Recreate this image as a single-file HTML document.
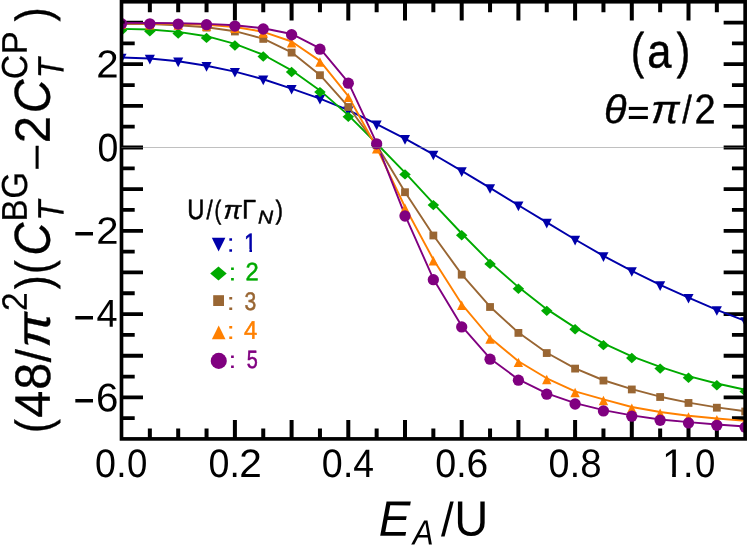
<!DOCTYPE html>
<html><head><meta charset="utf-8"><title>chart</title>
<style>html,body{margin:0;padding:0;background:#fff;}body{position:relative;width:747px;height:547px;overflow:hidden;font-family:"Liberation Sans",sans-serif;}</style>
</head><body>
<svg width="747" height="547" viewBox="0 0 747 547" style="display:block;position:absolute;left:0;top:0;will-change:transform" font-family="Liberation Sans, sans-serif">
<rect width="747" height="547" fill="#fff"/>
<path d="M149.85,438.9V428.50M149.85,1.75V12.15M178.20,438.9V428.50M178.20,1.75V12.15M206.55,438.9V428.50M206.55,1.75V12.15M234.90,438.9V420.10M234.90,1.75V20.55M263.25,438.9V428.50M263.25,1.75V12.15M291.60,438.9V420.10M291.60,1.75V20.55M319.95,438.9V428.50M319.95,1.75V12.15M348.30,438.9V420.10M348.30,1.75V20.55M376.65,438.9V428.50M376.65,1.75V12.15M405.00,438.9V420.10M405.00,1.75V20.55M433.35,438.9V428.50M433.35,1.75V12.15M461.70,438.9V420.10M461.70,1.75V20.55M490.05,438.9V428.50M490.05,1.75V12.15M518.40,438.9V420.10M518.40,1.75V20.55M546.75,438.9V428.50M546.75,1.75V12.15M575.10,438.9V420.10M575.10,1.75V20.55M603.45,438.9V428.50M603.45,1.75V12.15M631.80,438.9V420.10M631.80,1.75V20.55M660.15,438.9V428.50M660.15,1.75V12.15M688.50,438.9V420.10M688.50,1.75V20.55M716.85,438.9V428.50M716.85,1.75V12.15" stroke="#000" stroke-width="4.0" fill="none"/>
<path d="M121.5,418.22H134.70M745.15,418.22H731.95M121.5,397.40H143.00M745.15,397.40H723.65M121.5,376.57H134.70M745.15,376.57H731.95M121.5,355.75H143.00M745.15,355.75H723.65M121.5,334.92H134.70M745.15,334.92H731.95M121.5,314.10H143.00M745.15,314.10H723.65M121.5,293.27H134.70M745.15,293.27H731.95M121.5,272.45H143.00M745.15,272.45H723.65M121.5,251.62H134.70M745.15,251.62H731.95M121.5,230.80H143.00M745.15,230.80H723.65M121.5,209.97H134.70M745.15,209.97H731.95M121.5,189.15H143.00M745.15,189.15H723.65M121.5,168.32H134.70M745.15,168.32H731.95M121.5,147.50H143.00M745.15,147.50H723.65M121.5,126.67H134.70M745.15,126.67H731.95M121.5,105.85H143.00M745.15,105.85H723.65M121.5,85.03H134.70M745.15,85.03H731.95M121.5,64.20H143.00M745.15,64.20H723.65M121.5,43.38H134.70M745.15,43.38H731.95M121.5,22.55H143.00M745.15,22.55H723.65" stroke="#000" stroke-width="3.8" fill="none"/>
<defs><clipPath id="one"><rect x="0" y="-29.297" width="23.438" height="26.074"/><rect x="10.020" y="-3.418" width="3.613" height="3.516"/></clipPath><clipPath id="oneb"><rect x="0" y="-29.297" width="23.438" height="25.098"/><rect x="9.570" y="-4.395" width="4.512" height="4.785"/></clipPath></defs>
<defs><clipPath id="c"><rect x="121.5" y="1.75" width="623.65" height="437.15"/></clipPath></defs>
<g clip-path="url(#c)">
<polyline points="121.50,57.50 149.85,58.50 178.20,61.20 206.55,65.70 234.90,71.60 263.25,79.25 291.60,88.60 319.95,98.60 348.30,110.20 376.65,124.20 405.00,138.65 433.35,154.30 461.70,170.90 490.05,187.85 518.40,205.25 546.75,222.40 575.10,239.50 603.45,255.90 631.80,270.80 660.15,284.90 688.50,297.60 716.85,309.80 745.20,320.80" fill="none" stroke="#0000aa" stroke-width="1.9" stroke-linejoin="round"/>
<polyline points="121.50,28.90 149.85,29.50 178.20,31.85 206.55,36.20 234.90,43.80 263.25,54.75 291.60,70.30 319.95,90.40 348.30,115.15 376.65,143.50 405.00,172.70 433.35,203.40 461.70,233.50 490.05,262.20 518.40,287.10 546.75,309.15 575.10,327.60 603.45,343.45 631.80,356.30 660.15,366.90 688.50,376.10 716.85,383.50 745.20,389.70" fill="none" stroke="#00aa00" stroke-width="1.9" stroke-linejoin="round"/>
<polyline points="121.50,23.75 149.85,24.10 178.20,25.20 206.55,27.30 234.90,31.20 263.25,38.60 291.60,52.30 319.95,74.90 348.30,106.70 376.65,145.00 405.00,191.90 433.35,235.20 461.70,274.40 490.05,306.70 518.40,332.60 546.75,352.75 575.10,368.30 603.45,380.25 631.80,389.15 660.15,396.70 688.50,402.65 716.85,407.40 745.20,411.20" fill="none" stroke="#996633" stroke-width="1.9" stroke-linejoin="round"/>
<polyline points="121.50,23.00 149.85,23.50 178.20,23.90 206.55,24.85 234.90,27.00 263.25,31.80 291.60,41.50 319.95,60.85 348.30,96.20 376.65,147.50 405.00,207.00 433.35,259.50 461.70,304.10 490.05,337.75 518.40,361.20 546.75,378.30 575.10,391.35 603.45,399.30 631.80,407.00 660.15,412.00 688.50,415.80 716.85,418.50 745.20,420.90" fill="none" stroke="#ff8000" stroke-width="1.9" stroke-linejoin="round"/>
<polyline points="121.50,22.85 149.85,23.00 178.20,23.25 206.55,23.90 234.90,25.25 263.25,28.20 291.60,33.95 319.95,48.40 348.30,82.35 376.65,143.05 405.00,215.20 433.35,278.90 461.70,326.10 490.05,358.40 518.40,379.40 546.75,393.40 575.10,403.20 603.45,410.10 631.80,415.40 660.15,419.45 688.50,422.10 716.85,424.50 745.20,426.50" fill="none" stroke="#800080" stroke-width="1.9" stroke-linejoin="round"/>
<path d="M116.45,53.85L126.55,53.85L121.50,63.50Z" fill="#0000aa"/>
<path d="M144.80,54.85L154.90,54.85L149.85,64.50Z" fill="#0000aa"/>
<path d="M173.15,57.55L183.25,57.55L178.20,67.20Z" fill="#0000aa"/>
<path d="M201.50,62.05L211.60,62.05L206.55,71.70Z" fill="#0000aa"/>
<path d="M229.85,67.95L239.95,67.95L234.90,77.60Z" fill="#0000aa"/>
<path d="M258.20,75.60L268.30,75.60L263.25,85.25Z" fill="#0000aa"/>
<path d="M286.55,84.95L296.65,84.95L291.60,94.60Z" fill="#0000aa"/>
<path d="M314.90,94.95L325.00,94.95L319.95,104.60Z" fill="#0000aa"/>
<path d="M343.25,106.55L353.35,106.55L348.30,116.20Z" fill="#0000aa"/>
<path d="M371.60,120.55L381.70,120.55L376.65,130.20Z" fill="#0000aa"/>
<path d="M399.95,135.00L410.05,135.00L405.00,144.65Z" fill="#0000aa"/>
<path d="M428.30,150.65L438.40,150.65L433.35,160.30Z" fill="#0000aa"/>
<path d="M456.65,167.25L466.75,167.25L461.70,176.90Z" fill="#0000aa"/>
<path d="M485.00,184.20L495.10,184.20L490.05,193.85Z" fill="#0000aa"/>
<path d="M513.35,201.60L523.45,201.60L518.40,211.25Z" fill="#0000aa"/>
<path d="M541.70,218.75L551.80,218.75L546.75,228.40Z" fill="#0000aa"/>
<path d="M570.05,235.85L580.15,235.85L575.10,245.50Z" fill="#0000aa"/>
<path d="M598.40,252.25L608.50,252.25L603.45,261.90Z" fill="#0000aa"/>
<path d="M626.75,267.15L636.85,267.15L631.80,276.80Z" fill="#0000aa"/>
<path d="M655.10,281.25L665.20,281.25L660.15,290.90Z" fill="#0000aa"/>
<path d="M683.45,293.95L693.55,293.95L688.50,303.60Z" fill="#0000aa"/>
<path d="M711.80,306.15L721.90,306.15L716.85,315.80Z" fill="#0000aa"/>
<path d="M740.15,317.15L750.25,317.15L745.20,326.80Z" fill="#0000aa"/>
<path d="M115.75,30.60L121.50,25.40L127.25,30.60L121.50,35.80Z" fill="#00aa00"/>
<path d="M144.10,31.20L149.85,26.00L155.60,31.20L149.85,36.40Z" fill="#00aa00"/>
<path d="M172.45,33.55L178.20,28.35L183.95,33.55L178.20,38.75Z" fill="#00aa00"/>
<path d="M200.80,37.90L206.55,32.70L212.30,37.90L206.55,43.10Z" fill="#00aa00"/>
<path d="M229.15,45.50L234.90,40.30L240.65,45.50L234.90,50.70Z" fill="#00aa00"/>
<path d="M257.50,56.45L263.25,51.25L269.00,56.45L263.25,61.65Z" fill="#00aa00"/>
<path d="M285.85,72.00L291.60,66.80L297.35,72.00L291.60,77.20Z" fill="#00aa00"/>
<path d="M314.20,92.10L319.95,86.90L325.70,92.10L319.95,97.30Z" fill="#00aa00"/>
<path d="M342.55,116.85L348.30,111.65L354.05,116.85L348.30,122.05Z" fill="#00aa00"/>
<path d="M370.90,145.20L376.65,140.00L382.40,145.20L376.65,150.40Z" fill="#00aa00"/>
<path d="M399.25,174.40L405.00,169.20L410.75,174.40L405.00,179.60Z" fill="#00aa00"/>
<path d="M427.60,205.10L433.35,199.90L439.10,205.10L433.35,210.30Z" fill="#00aa00"/>
<path d="M455.95,235.20L461.70,230.00L467.45,235.20L461.70,240.40Z" fill="#00aa00"/>
<path d="M484.30,263.90L490.05,258.70L495.80,263.90L490.05,269.10Z" fill="#00aa00"/>
<path d="M512.65,288.80L518.40,283.60L524.15,288.80L518.40,294.00Z" fill="#00aa00"/>
<path d="M541.00,310.85L546.75,305.65L552.50,310.85L546.75,316.05Z" fill="#00aa00"/>
<path d="M569.35,329.30L575.10,324.10L580.85,329.30L575.10,334.50Z" fill="#00aa00"/>
<path d="M597.70,345.15L603.45,339.95L609.20,345.15L603.45,350.35Z" fill="#00aa00"/>
<path d="M626.05,358.00L631.80,352.80L637.55,358.00L631.80,363.20Z" fill="#00aa00"/>
<path d="M654.40,368.60L660.15,363.40L665.90,368.60L660.15,373.80Z" fill="#00aa00"/>
<path d="M682.75,377.80L688.50,372.60L694.25,377.80L688.50,383.00Z" fill="#00aa00"/>
<path d="M711.10,385.20L716.85,380.00L722.60,385.20L716.85,390.40Z" fill="#00aa00"/>
<path d="M739.45,391.40L745.20,386.20L750.95,391.40L745.20,396.60Z" fill="#00aa00"/>
<rect x="117.60" y="20.15" width="7.80" height="7.80" fill="#996633"/>
<rect x="145.95" y="20.50" width="7.80" height="7.80" fill="#996633"/>
<rect x="174.30" y="21.60" width="7.80" height="7.80" fill="#996633"/>
<rect x="202.65" y="23.70" width="7.80" height="7.80" fill="#996633"/>
<rect x="231.00" y="27.60" width="7.80" height="7.80" fill="#996633"/>
<rect x="259.35" y="35.00" width="7.80" height="7.80" fill="#996633"/>
<rect x="287.70" y="48.70" width="7.80" height="7.80" fill="#996633"/>
<rect x="316.05" y="71.30" width="7.80" height="7.80" fill="#996633"/>
<rect x="344.40" y="103.10" width="7.80" height="7.80" fill="#996633"/>
<rect x="372.75" y="141.40" width="7.80" height="7.80" fill="#996633"/>
<rect x="401.10" y="188.30" width="7.80" height="7.80" fill="#996633"/>
<rect x="429.45" y="231.60" width="7.80" height="7.80" fill="#996633"/>
<rect x="457.80" y="270.80" width="7.80" height="7.80" fill="#996633"/>
<rect x="486.15" y="303.10" width="7.80" height="7.80" fill="#996633"/>
<rect x="514.50" y="329.00" width="7.80" height="7.80" fill="#996633"/>
<rect x="542.85" y="349.15" width="7.80" height="7.80" fill="#996633"/>
<rect x="571.20" y="364.70" width="7.80" height="7.80" fill="#996633"/>
<rect x="599.55" y="376.65" width="7.80" height="7.80" fill="#996633"/>
<rect x="627.90" y="385.55" width="7.80" height="7.80" fill="#996633"/>
<rect x="656.25" y="393.10" width="7.80" height="7.80" fill="#996633"/>
<rect x="684.60" y="399.05" width="7.80" height="7.80" fill="#996633"/>
<rect x="712.95" y="403.80" width="7.80" height="7.80" fill="#996633"/>
<rect x="741.30" y="407.60" width="7.80" height="7.80" fill="#996633"/>
<path d="M116.80,28.90L126.20,28.90L121.50,19.50Z" fill="#ff8000"/>
<path d="M145.15,29.40L154.55,29.40L149.85,20.00Z" fill="#ff8000"/>
<path d="M173.50,29.80L182.90,29.80L178.20,20.40Z" fill="#ff8000"/>
<path d="M201.85,30.75L211.25,30.75L206.55,21.35Z" fill="#ff8000"/>
<path d="M230.20,32.90L239.60,32.90L234.90,23.50Z" fill="#ff8000"/>
<path d="M258.55,37.70L267.95,37.70L263.25,28.30Z" fill="#ff8000"/>
<path d="M286.90,47.40L296.30,47.40L291.60,38.00Z" fill="#ff8000"/>
<path d="M315.25,66.75L324.65,66.75L319.95,57.35Z" fill="#ff8000"/>
<path d="M343.60,102.10L353.00,102.10L348.30,92.70Z" fill="#ff8000"/>
<path d="M371.95,153.40L381.35,153.40L376.65,144.00Z" fill="#ff8000"/>
<path d="M400.30,212.90L409.70,212.90L405.00,203.50Z" fill="#ff8000"/>
<path d="M428.65,265.40L438.05,265.40L433.35,256.00Z" fill="#ff8000"/>
<path d="M457.00,310.00L466.40,310.00L461.70,300.60Z" fill="#ff8000"/>
<path d="M485.35,343.65L494.75,343.65L490.05,334.25Z" fill="#ff8000"/>
<path d="M513.70,367.10L523.10,367.10L518.40,357.70Z" fill="#ff8000"/>
<path d="M542.05,384.20L551.45,384.20L546.75,374.80Z" fill="#ff8000"/>
<path d="M570.40,397.25L579.80,397.25L575.10,387.85Z" fill="#ff8000"/>
<path d="M598.75,405.20L608.15,405.20L603.45,395.80Z" fill="#ff8000"/>
<path d="M627.10,412.90L636.50,412.90L631.80,403.50Z" fill="#ff8000"/>
<path d="M655.45,417.90L664.85,417.90L660.15,408.50Z" fill="#ff8000"/>
<path d="M683.80,421.70L693.20,421.70L688.50,412.30Z" fill="#ff8000"/>
<path d="M712.15,424.40L721.55,424.40L716.85,415.00Z" fill="#ff8000"/>
<path d="M740.50,426.80L749.90,426.80L745.20,417.40Z" fill="#ff8000"/>
<circle cx="121.50" cy="23.65" r="5.65" fill="#800080"/>
<circle cx="149.85" cy="23.80" r="5.65" fill="#800080"/>
<circle cx="178.20" cy="24.05" r="5.65" fill="#800080"/>
<circle cx="206.55" cy="24.70" r="5.65" fill="#800080"/>
<circle cx="234.90" cy="26.05" r="5.65" fill="#800080"/>
<circle cx="263.25" cy="29.00" r="5.65" fill="#800080"/>
<circle cx="291.60" cy="34.75" r="5.65" fill="#800080"/>
<circle cx="319.95" cy="49.20" r="5.65" fill="#800080"/>
<circle cx="348.30" cy="83.15" r="5.65" fill="#800080"/>
<circle cx="376.65" cy="143.85" r="5.65" fill="#800080"/>
<circle cx="405.00" cy="216.00" r="5.65" fill="#800080"/>
<circle cx="433.35" cy="279.70" r="5.65" fill="#800080"/>
<circle cx="461.70" cy="326.90" r="5.65" fill="#800080"/>
<circle cx="490.05" cy="359.20" r="5.65" fill="#800080"/>
<circle cx="518.40" cy="380.20" r="5.65" fill="#800080"/>
<circle cx="546.75" cy="394.20" r="5.65" fill="#800080"/>
<circle cx="575.10" cy="404.00" r="5.65" fill="#800080"/>
<circle cx="603.45" cy="410.90" r="5.65" fill="#800080"/>
<circle cx="631.80" cy="416.20" r="5.65" fill="#800080"/>
<circle cx="660.15" cy="420.25" r="5.65" fill="#800080"/>
<circle cx="688.50" cy="422.90" r="5.65" fill="#800080"/>
<circle cx="716.85" cy="425.30" r="5.65" fill="#800080"/>
<circle cx="745.20" cy="427.30" r="5.65" fill="#800080"/>
</g>
<rect x="121.5" y="1.75" width="623.65" height="437.15" fill="none" stroke="#000" stroke-width="3.65"/>
<rect x="123.2" y="20.6" width="1.4" height="3.0" fill="#000"/>
<line x1="121.5" x2="745.15" y1="147.5" y2="147.5" stroke="#808080" stroke-width="0.5"/>
<g fill="#000">
<text transform="translate(94.98,477.00) rotate(0.03) scale(0.9414,0.9933)" font-size="40">0</text>
<text transform="translate(116.15,477.00) rotate(0.03) scale(0.9321,0.9933)" font-size="40">.</text>
<text transform="translate(127.07,477.00) rotate(0.03) scale(0.9152,0.9933)" font-size="40">0</text>
<text transform="translate(208.38,477.00) rotate(0.03) scale(0.9414,0.9933)" font-size="40">0</text>
<text transform="translate(229.55,477.00) rotate(0.03) scale(0.9321,0.9933)" font-size="40">.</text>
<text transform="translate(239.26,477.00) rotate(0.03) scale(1.0152,0.9933)" font-size="40">2</text>
<text transform="translate(321.78,477.00) rotate(0.03) scale(0.9414,0.9933)" font-size="40">0</text>
<text transform="translate(342.95,477.00) rotate(0.03) scale(0.9321,0.9933)" font-size="40">.</text>
<text transform="translate(353.14,477.00) rotate(0.03) scale(0.9327,0.9933)" font-size="40">4</text>
<text transform="translate(435.18,477.00) rotate(0.03) scale(0.9414,0.9933)" font-size="40">0</text>
<text transform="translate(456.35,477.00) rotate(0.03) scale(0.9321,0.9933)" font-size="40">.</text>
<text transform="translate(466.52,477.00) rotate(0.03) scale(0.9752,0.9933)" font-size="40">6</text>
<text transform="translate(548.58,477.00) rotate(0.03) scale(0.9414,0.9933)" font-size="40">0</text>
<text transform="translate(569.75,477.00) rotate(0.03) scale(0.9321,0.9933)" font-size="40">.</text>
<text transform="translate(580.33,477.00) rotate(0.03) scale(0.9590,0.9933)" font-size="40">8</text>
<text transform="translate(661.92,477.00) rotate(0.03) scale(1.0209,1.0011)" font-size="40" clip-path="url(#one)">1</text>
<text transform="translate(682.95,477.00) rotate(0.03) scale(0.9452,0.9933)" font-size="40">.</text>
<text transform="translate(695.07,477.00) rotate(0.03) scale(0.9152,0.9933)" font-size="40">0</text>
<text transform="translate(96.18,77.55) rotate(0.03) scale(1.0042,0.9757)" font-size="40">2</text>
<text transform="translate(97.44,161.16) rotate(0.03) scale(0.9361,0.9905)" font-size="40">0</text>
<text transform="translate(96.19,243.70) rotate(0.03) scale(1.0015,0.9524)" font-size="40">2</text>
<text transform="translate(73.50,250.38) rotate(0.03) scale(0.9108,1.2274)" font-size="40">−</text>
<text transform="translate(96.58,326.85) rotate(0.03) scale(0.9476,0.9720)" font-size="40">4</text>
<text transform="translate(73.50,333.68) rotate(0.03) scale(0.9108,1.2274)" font-size="40">−</text>
<text transform="translate(95.90,411.16) rotate(0.03) scale(1.0077,0.9975)" font-size="40">6</text>
<text transform="translate(73.50,416.98) rotate(0.03) scale(0.9108,1.2274)" font-size="40">−</text>
<text transform="translate(378.84,535.70) rotate(0.03) scale(1.1851,1.2428)" font-size="40" font-style="italic">E</text>
<text transform="translate(412.84,544.50) rotate(0.03) scale(0.7810,0.8757)" font-size="40" font-style="italic">A</text>
<text transform="translate(440.90,535.94) rotate(0.03) scale(1.1428,1.1881)" font-size="40">/</text>
<text transform="translate(454.36,535.62) rotate(0.03) scale(1.1798,1.2397)" font-size="40">U</text>
<g transform="translate(0,430.7) rotate(-90)" stroke="#000" stroke-width="0.28">
<text transform="translate(-2.32,49.85) rotate(0.03) scale(1.0372,1.2317)" font-size="40">(</text>
<text transform="translate(12.83,49.75) rotate(0.03) scale(1.2155,1.2500)" font-size="40">4</text>
<text transform="translate(41.05,50.06) rotate(0.03) scale(1.2094,1.2500)" font-size="40">8</text>
<text transform="translate(68.35,50.57) rotate(0.03) scale(1.1698,1.2221)" font-size="40">/</text>
<text transform="translate(82.99,49.68) rotate(0.03) scale(1.3268,1.1987)" font-size="40" font-style="italic">π</text>
<text transform="translate(119.66,26.85) rotate(0.03) scale(0.8396,0.8808)" font-size="40">2</text>
<text transform="translate(141.51,49.85) rotate(0.03) scale(1.0372,1.2317)" font-size="40">)</text>
<text transform="translate(156.78,49.85) rotate(0.03) scale(1.0372,1.2317)" font-size="40">(</text>
<text transform="translate(174.91,49.65) rotate(0.03) scale(1.1489,1.2676)" font-size="40" font-style="italic">C</text>
<text transform="translate(209.89,63.55) rotate(0.03) scale(0.8232,0.9193)" font-size="40" font-style="italic">T</text>
<text transform="translate(209.14,26.85) rotate(0.03) scale(0.8267,0.8939)" font-size="40">B</text>
<text transform="translate(232.01,26.90) rotate(0.03) scale(0.8655,0.9039)" font-size="40">G</text>
<text transform="translate(259.75,49.79) rotate(0.03) scale(1.1681,0.9468)" font-size="40">−</text>
<text transform="translate(287.48,49.80) rotate(0.03) scale(1.2292,1.2406)" font-size="40">2</text>
<text transform="translate(317.47,49.65) rotate(0.03) scale(1.1675,1.2676)" font-size="40" font-style="italic">C</text>
<text transform="translate(352.39,63.55) rotate(0.03) scale(0.8232,0.9193)" font-size="40" font-style="italic">T</text>
<text transform="translate(351.33,26.90) rotate(0.03) scale(0.8448,0.9039)" font-size="40">C</text>
<text transform="translate(376.33,26.75) rotate(0.03) scale(0.8596,0.8903)" font-size="40">P</text>
<text transform="translate(409.10,49.85) rotate(0.03) scale(1.0655,1.2317)" font-size="40">)</text>
</g>
<text transform="translate(631.09,67.92) rotate(0.03) scale(0.9901,1.2478)" font-size="40" stroke="#000" stroke-width="0.450" stroke-linejoin="round">(</text>
<text transform="translate(647.31,67.38) rotate(0.03) scale(1.0853,1.1956)" font-size="40" stroke="#000" stroke-width="0.439" stroke-linejoin="round">a</text>
<text transform="translate(676.41,67.92) rotate(0.03) scale(1.0278,1.2478)" font-size="40" stroke="#000" stroke-width="0.442" stroke-linejoin="round">)</text>
<text transform="translate(603.95,123.11) rotate(0.03) scale(1.0374,0.9940)" font-size="40" font-style="italic" stroke="#000" stroke-width="0.394" stroke-linejoin="round">θ</text>
<text transform="translate(627.01,125.15) rotate(0.03) scale(0.9674,0.9309)" font-size="40">=</text>
<rect x="628.9" y="106.9" width="18.8" height="3.0"/><rect x="628.9" y="115.9" width="18.8" height="3.0"/>
<text transform="translate(651.01,123.11) rotate(0.03) scale(1.0654,0.9943)" font-size="40" font-style="italic" stroke="#000" stroke-width="0.389" stroke-linejoin="round">π</text>
<text transform="translate(682.20,123.31) rotate(0.03) scale(0.8548,0.9872)" font-size="40" stroke="#000" stroke-width="0.435" stroke-linejoin="round">/</text>
<text transform="translate(694.39,123.20) rotate(0.03) scale(0.9494,1.0347)" font-size="40" stroke="#000" stroke-width="0.404" stroke-linejoin="round">2</text>
<text transform="translate(187.22,218.78) rotate(0.03) scale(0.5943,0.6987)" font-size="40" stroke="#000" stroke-width="0.776" stroke-linejoin="round">U</text>
<text transform="translate(206.45,218.79) rotate(0.03) scale(0.5579,0.6638)" font-size="40" stroke="#000" stroke-width="0.822" stroke-linejoin="round">/</text>
<text transform="translate(214.49,218.76) rotate(0.03) scale(0.5092,0.6628)" font-size="40" stroke="#000" stroke-width="0.861" stroke-linejoin="round">(</text>
<text transform="translate(223.57,218.80) rotate(0.03) scale(0.6634,0.6458)" font-size="40" font-style="italic" stroke="#000" stroke-width="0.764" stroke-linejoin="round">π</text>
<text transform="translate(242.05,218.56) rotate(0.03) scale(0.6407,0.6722)" font-size="40" stroke="#000" stroke-width="0.762" stroke-linejoin="round">Γ</text>
<text transform="translate(258.01,223.45) rotate(0.03) scale(0.5239,0.4651)" font-size="40" font-style="italic" stroke="#000" stroke-width="1.013" stroke-linejoin="round">N</text>
<text transform="translate(275.42,218.76) rotate(0.03) scale(0.5563,0.6628)" font-size="40" stroke="#000" stroke-width="0.823" stroke-linejoin="round">)</text>
</g>
<text transform="translate(226.81,251.80) rotate(0.03) scale(0.7089,0.6388)" font-size="40" fill="#0000aa">:</text>
<text transform="translate(244.08,251.80) rotate(0.03) scale(0.5643,0.6632)" font-size="40" clip-path="url(#oneb)" fill="#0000aa" stroke="#0000aa" stroke-width="0.817">1</text>
<text transform="translate(228.41,280.50) rotate(0.03) scale(0.7089,0.6152)" font-size="40" fill="#00aa00">:</text>
<text transform="translate(245.56,280.25) rotate(0.03) scale(0.5927,0.6266)" font-size="40" fill="#00aa00" stroke="#00aa00" stroke-width="0.820" stroke-linejoin="round">2</text>
<text transform="translate(226.42,310.00) rotate(0.03) scale(0.7614,0.6199)" font-size="40" fill="#996633">:</text>
<text transform="translate(244.45,309.80) rotate(0.03) scale(0.5273,0.6356)" font-size="40" fill="#996633" stroke="#996633" stroke-width="0.864" stroke-linejoin="round">3</text>
<text transform="translate(226.42,339.10) rotate(0.03) scale(0.7614,0.6152)" font-size="40" fill="#ff8000">:</text>
<text transform="translate(244.00,338.85) rotate(0.03) scale(0.5953,0.6359)" font-size="40" fill="#ff8000" stroke="#ff8000" stroke-width="0.813" stroke-linejoin="round">4</text>
<text transform="translate(228.41,368.00) rotate(0.03) scale(0.7089,0.5915)" font-size="40" fill="#800080">:</text>
<text transform="translate(246.76,367.81) rotate(0.03) scale(0.4957,0.6270)" font-size="40" fill="#800080" stroke="#800080" stroke-width="0.897" stroke-linejoin="round">5</text>
<path d="M211.80,237.70L225.40,237.70L218.60,251.40Z" fill="#0000aa"/>
<path d="M210.20,273.50L218.45,266.40L226.70,273.50L218.45,280.60Z" fill="#00aa00"/>
<rect x="213.2" y="295.2" width="10.8" height="10.8" fill="#996633"/>
<path d="M211.90,339.20L225.50,339.20L218.70,325.60Z" fill="#ff8000"/>
<circle cx="218.75" cy="360.9" r="8.05" fill="#800080"/>
</svg>
</body></html>
